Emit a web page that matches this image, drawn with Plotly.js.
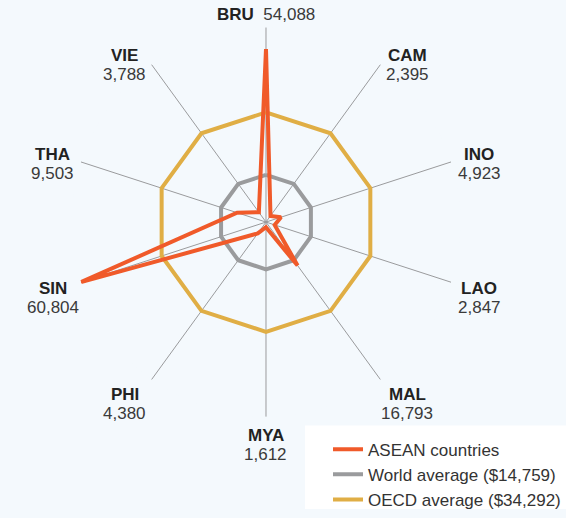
<!DOCTYPE html>
<html>
<head>
<meta charset="utf-8">
<script src="https://cdn.plot.ly/plotly-3.0.1.min.js"></script>
<style>html,body{margin:0;padding:0;background:#f4f9fd;}#chart{width:566px;height:518px;}</style>
</head>
<body>
<div id="chart"></div>
<script>
const countries = ["BRU","CAM","INO","LAO","MAL","MYA","PHI","SIN","THA","VIE"];
const aseanValues = [54088,2395,4923,2847,16793,1612,4380,60804,9503,3788];
const worldAverage = 14759;
const oecdAverage = 34292;
const seriesNames = ["ASEAN countries","World average ($14,759)","OECD average ($34,292)"];

const W = 566, H = 518;
const domX = [0.1201, 0.8198], domY = [0.1815, 0.9459];
const fmt = v => v.toLocaleString("en-US");
const closed = arr => arr.concat([arr[0]]);
const theta = closed(countries);

const traces = [
  {type:"scatterpolar", mode:"lines", name:seriesNames[2], r:closed(countries.map(()=>oecdAverage)), theta:theta,
   line:{color:"#e0ae45", width:4}, cliponaxis:false, hoverinfo:"skip"},
  {type:"scatterpolar", mode:"lines", name:seriesNames[1], r:closed(countries.map(()=>worldAverage)), theta:theta,
   line:{color:"#9a9b9d", width:4}, cliponaxis:false, hoverinfo:"skip"},
  {type:"scatterpolar", mode:"lines", name:seriesNames[0], r:closed(aseanValues), theta:theta,
   line:{color:"#f05a2a", width:4}, cliponaxis:false, hoverinfo:"skip"}
];

// polar geometry derived from the domain
const cx = (domX[0] + domX[1]) / 2 * W;
const cyTop = H - (domY[0] + domY[1]) / 2 * H;
const R = Math.min((domX[1]-domX[0]) * W, (domY[1]-domY[0]) * H) / 2;

const annotations = [];
countries.forEach((c, i) => {
  const a = (90 - 360 / countries.length * i) * Math.PI / 180;
  const ux = Math.cos(a), uyd = -Math.sin(a);
  const ex = cx + R * ux, ey = cyTop + R * uyd;
  const xoff = Math.abs(ux) < 0.1 ? 0 : Math.sign(ux) * 25;
  const base = {xref:"paper", yref:"paper", x:ex / W, y:1 - ey / H, showarrow:false,
                xanchor:"center", yanchor:"middle", xshift:xoff};
  if (i === 0) {
    annotations.push(Object.assign({}, base, {
      text:"<b>" + c + "</b>\u00a0\u00a0<span style='color:#3a3a3a'>" + fmt(aseanValues[i]) + "</span>",
      font:{size:17, color:"#222"}, yshift:13}));
  } else {
    const yoff = uyd < 0 ? (4 + 5 * uyd) : (10 + 18 * uyd);
    annotations.push(Object.assign({}, base, {text:"<b>" + c + "</b>",
      font:{size:17, color:"#222"}, yshift:-(yoff - 9.5)}));
    annotations.push(Object.assign({}, base, {text:fmt(aseanValues[i]),
      font:{size:17, color:"#3a3a3a"}, yshift:-(yoff + 9.5)}));
  }
});

const layout = {
  width:W, height:H,
  margin:{l:0,r:0,t:0,b:0},
  paper_bgcolor:"#f4f9fd",
  plot_bgcolor:"#f4f9fd",
  font:{family:"Liberation Sans, Arial, sans-serif", color:"#222"},
  showlegend:true,
  legend:{x:0.580, y:0.152, xanchor:"left", yanchor:"top", bgcolor:"rgba(0,0,0,0)",
          traceorder:"reversed", font:{size:17, color:"#333"}, tracegroupgap:0},
  shapes:[{type:"rect", xref:"paper", yref:"paper", x0:305/W, x1:1, y0:0, y1:1 - 433/H,
           fillcolor:"#ffffff", line:{width:0}, layer:"above"}],
  annotations:annotations,
  polar:{
    domain:{x:domX, y:domY},
    bgcolor:"#f4f9fd",
    radialaxis:{range:[0,60804], visible:false, showgrid:false},
    angularaxis:{type:"category", categoryarray:countries, direction:"clockwise", rotation:90,
      showline:false, showgrid:true, gridcolor:"#9a9b9d", gridwidth:1, ticks:"",
      showticklabels:false}
  }
};
Plotly.newPlot("chart", traces, layout, {displayModeBar:false, staticPlot:true});
</script>
</body>
</html>
